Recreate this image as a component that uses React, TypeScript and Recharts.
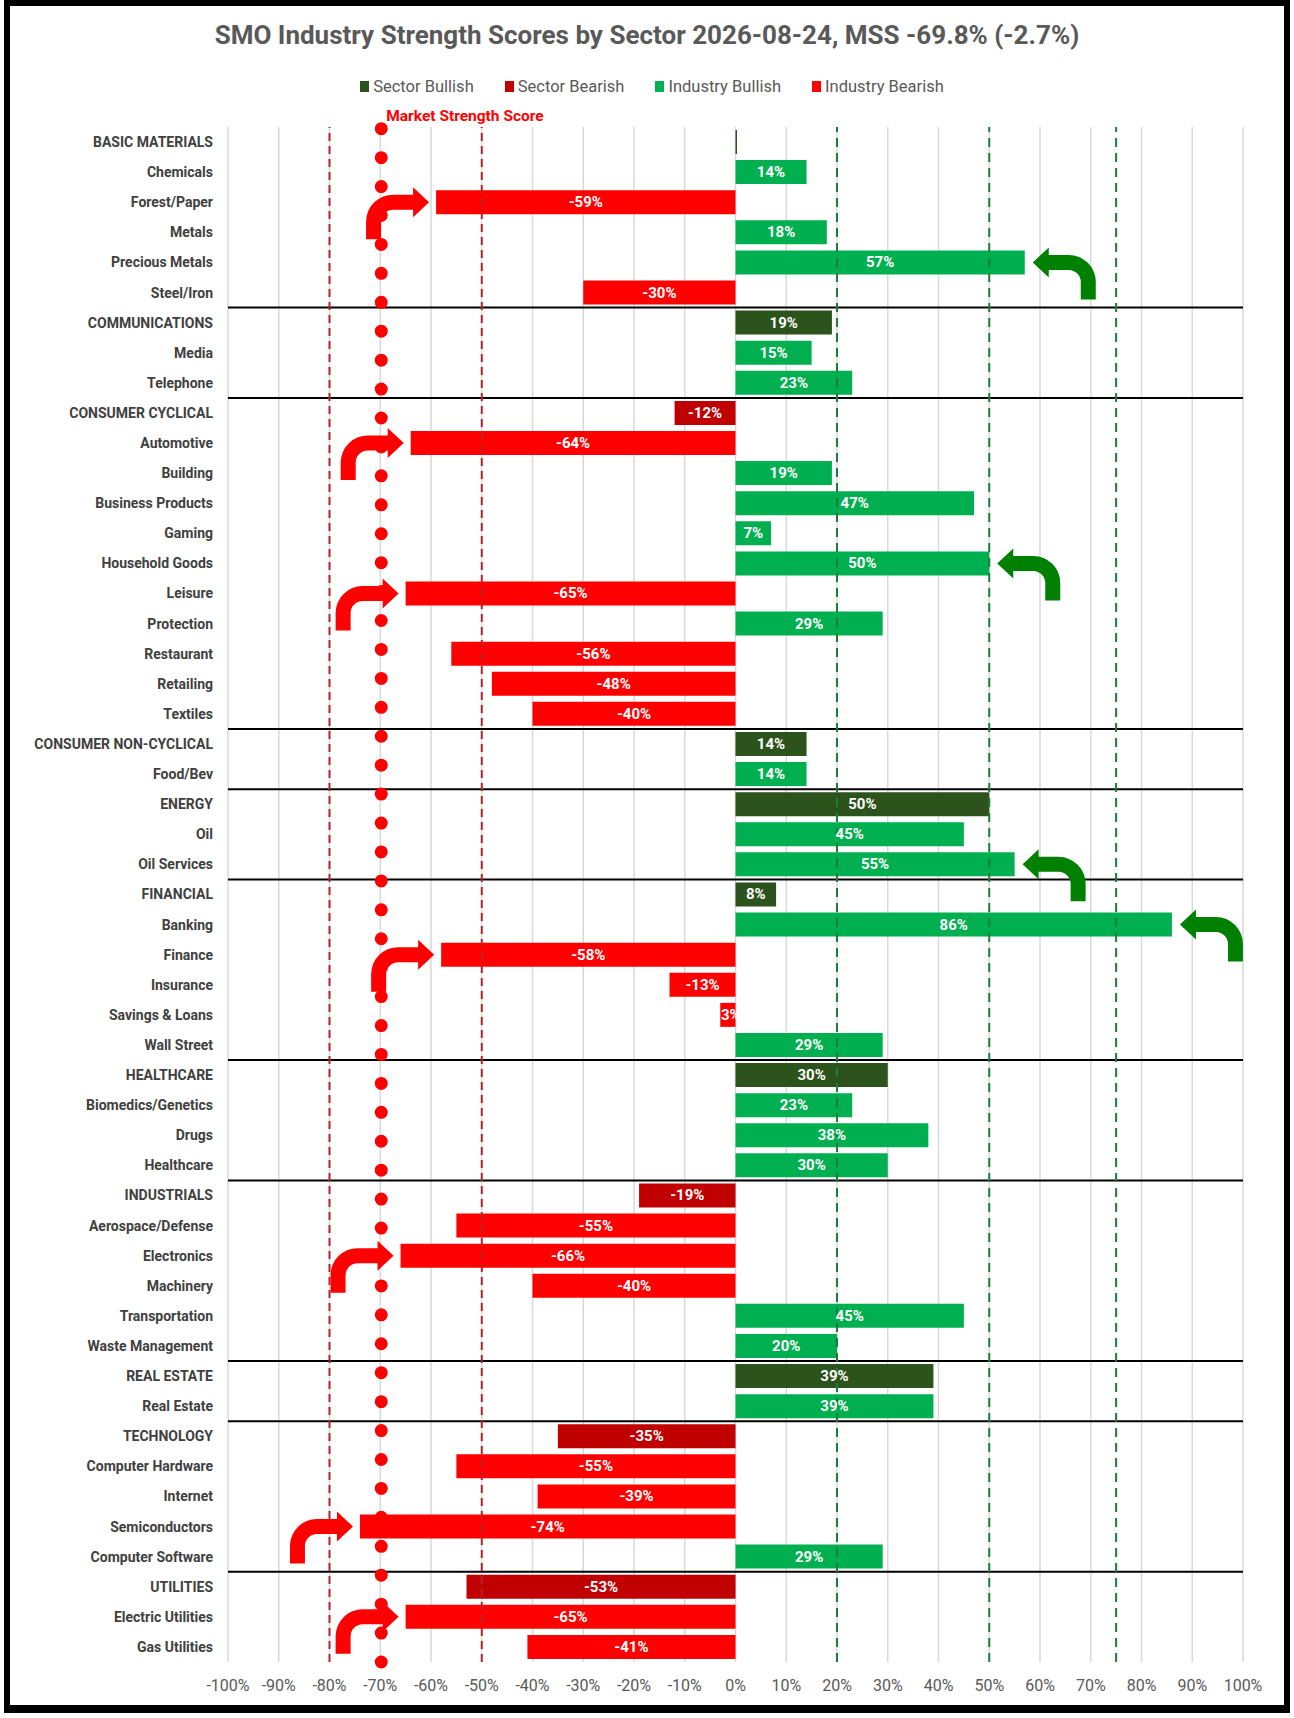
import { BarChart, Bar, XAxis, YAxis, CartesianGrid, ReferenceLine, LabelList } from 'recharts'

const categories = [
  'BASIC MATERIALS', 'Chemicals', 'Forest/Paper', 'Metals', 'Precious Metals', 'Steel/Iron',
  'COMMUNICATIONS', 'Media', 'Telephone',
  'CONSUMER CYCLICAL', 'Automotive', 'Building', 'Business Products', 'Gaming', 'Household Goods',
  'Leisure', 'Protection', 'Restaurant', 'Retailing', 'Textiles',
  'CONSUMER NON-CYCLICAL', 'Food/Bev',
  'ENERGY', 'Oil', 'Oil Services',
  'FINANCIAL', 'Banking', 'Finance', 'Insurance', 'Savings & Loans', 'Wall Street',
  'HEALTHCARE', 'Biomedics/Genetics', 'Drugs', 'Healthcare',
  'INDUSTRIALS', 'Aerospace/Defense', 'Electronics', 'Machinery', 'Transportation', 'Waste Management',
  'REAL ESTATE', 'Real Estate',
  'TECHNOLOGY', 'Computer Hardware', 'Internet', 'Semiconductors', 'Computer Software',
  'UTILITIES', 'Electric Utilities', 'Gas Utilities',
]

const sectorNames = [
  'BASIC MATERIALS', 'COMMUNICATIONS', 'CONSUMER CYCLICAL', 'CONSUMER NON-CYCLICAL', 'ENERGY',
  'FINANCIAL', 'HEALTHCARE', 'INDUSTRIALS', 'REAL ESTATE', 'TECHNOLOGY', 'UTILITIES',
]

const scores = [
  0.3, 14, -59, 18, 57, -30,
  19, 15, 23,
  -12, -64, 19, 47, 7, 50, -65, 29, -56, -48, -40,
  14, 14,
  50, 45, 55,
  8, 86, -58, -13, -3, 29,
  30, 23, 38, 30,
  -19, -55, -66, -40, 45, 20,
  39, 39,
  -35, -55, -39, -74, 29,
  -53, -65, -41,
]

// rows flagged with a turn arrow next to the bar end
const arrowRows = [
  'Forest/Paper', 'Precious Metals', 'Automotive', 'Household Goods', 'Leisure', 'Oil Services',
  'Banking', 'Finance', 'Electronics', 'Semiconductors', 'Electric Utilities',
]

const xTicks = [-100, -90, -80, -70, -60, -50, -40, -30, -20, -10, 0, 10, 20, 30, 40, 50, 60, 70, 80, 90, 100]
const mss = -69.8
const bearLines = [-80, -50]
const bullLines = [20, 50, 75]

const SERIES = [
  { key: 'sectorBull', name: 'Sector Bullish', color: '#2b531b' },
  { key: 'sectorBear', name: 'Sector Bearish', color: '#c00000' },
  { key: 'industryBull', name: 'Industry Bullish', color: '#00b050' },
  { key: 'industryBear', name: 'Industry Bearish', color: '#ff0000' },
]

const rows = categories.map((name, i) => {
  const v = scores[i]
  const sector = sectorNames.includes(name)
  return {
    name,
    sectorBull: sector && v >= 0 ? v : 0,
    sectorBear: sector && v < 0 ? v : 0,
    industryBull: !sector && v >= 0 ? v : 0,
    industryBear: !sector && v < 0 ? v : 0,
  }
})

const separators = sectorNames.slice(1)

// curved arrow pointing right, tip at origin
const ARROW =
  'M 0 0 L -16 -15 L -16 -7.5 L -36 -7.5 A 27 27 0 0 0 -63 19.5 L -63 37 L -48 37 L -48 19.5 A 12 12 0 0 1 -36 7.5 L -16 7.5 L -16 15 Z'

function makeLabel(key: string) {
  return (props: any) => {
    const row: any = rows.find((r) => r.name === props.value)
    if (!row) return null
    const v = row[key]
    if (!v || Math.abs(v) < 1) return null
    const x = Number(props.x)
    const w = Number(props.width)
    const y = Number(props.y)
    const h = Number(props.height)
    const left = Math.min(x, x + w)
    const right = Math.max(x, x + w)
    const cy = y + h / 2
    const hasArrow = arrowRows.includes(row.name)
    return (
      <g>
        <text
          x={(left + right) / 2}
          y={cy}
          fill="#fff"
          fontSize={15}
          fontWeight={700}
          textAnchor="middle"
          dominantBaseline="central"
        >
          {`${v}%`}
        </text>
        {hasArrow && v < 0 && (
          <path d={ARROW} fill="#ff0000" transform={`translate(${left - 7},${cy})`} />
        )}
        {hasArrow && v > 0 && (
          <path d={ARROW} fill="#008000" transform={`translate(${right + 8},${cy}) scale(-1,1)`} />
        )}
      </g>
    )
  }
}

const mssLabel = (props: any) => {
  const vb = props.viewBox || {}
  return (
    <text x={vb.x + 5} y={vb.y - 6} fill="#ff0000" fontSize={15.5} fontWeight={700}>
      Market Strength Score
    </text>
  )
}

export default function App() {
  return (
    <div style={{ position: 'absolute', left: 0, top: 0, width: 1294, height: 1718, fontFamily: 'Roboto, sans-serif', background: '#fff' }}>
      <div
        style={{
          position: 'absolute', left: 4, top: 0, width: 1286, height: 1713,
          border: '6px solid #000', borderBottomWidth: 8, boxSizing: 'border-box',
        }}
      />
      <div
        style={{
          position: 'absolute', left: 0, top: 20, width: 1294, textAlign: 'center',
          fontSize: 26, fontWeight: 700, color: '#595959',
        }}
      >
        SMO Industry Strength Scores by Sector 2026-08-24, MSS -69.8% (-2.7%)
      </div>
      <div
        style={{
          position: 'absolute', left: 10, top: 77, width: 1284, display: 'flex', justifyContent: 'center',
          gap: 31, fontSize: 16.5, color: '#595959',
        }}
      >
        {SERIES.map((s) => (
          <span key={s.key} style={{ display: 'flex', alignItems: 'center', gap: 4 }}>
            <span style={{ width: 9, height: 11, background: s.color, display: 'inline-block' }} />
            {s.name}
          </span>
        ))}
      </div>
      <div style={{ position: 'absolute', left: 0, top: 0 }}>
        <BarChart
          width={1294}
          height={1718}
          data={rows}
          layout="vertical"
          stackOffset="sign"
          barCategoryGap="10%"
          margin={{ top: 127, right: 51, bottom: 26, left: 10 }}
        >
          <CartesianGrid horizontal={false} stroke="#d9d9d9" strokeWidth={1.5} />
          <XAxis
            type="number"
            domain={[-100, 100]}
            ticks={xTicks}
            interval={0}
            tickFormatter={(v) => `${v}%`}
            axisLine={false}
            tickLine={false}
            tickSize={0}
            tickMargin={18}
            height={30}
            tick={{ fill: '#595959', fontSize: 16 }}
          />
          <YAxis
            type="category"
            dataKey="name"
            width={218}
            interval={0}
            axisLine={false}
            tickLine={false}
            tickSize={0}
            tickMargin={15}
            tick={{ fill: '#404040', fontSize: 14, fontWeight: 700 }}
          />
          {SERIES.map((s) => (
            <Bar key={s.key} dataKey={s.key} name={s.name} stackId="s" fill={s.color} isAnimationActive={false}>
              <LabelList dataKey="name" content={makeLabel(s.key)} />
            </Bar>
          ))}
          {separators.map((name) => (
            <ReferenceLine key={`sep-${name}`} y={name} position="start" stroke="#000" strokeWidth={2} />
          ))}
          {bearLines.map((v) => (
            <ReferenceLine key={`bear-${v}`} x={v} stroke="#b5242b" strokeWidth={2} strokeDasharray="8 5" />
          ))}
          {bullLines.map((v) => (
            <ReferenceLine key={`bull-${v}`} x={v} stroke="#1d7d35" strokeWidth={2} strokeDasharray="9 6" />
          ))}
          <ReferenceLine
            x={mss}
            stroke="#ff0000"
            strokeWidth={13}
            strokeLinecap="round"
            strokeDasharray="0 28.93"
            label={mssLabel}
          />
        </BarChart>
      </div>
    </div>
  )
}
